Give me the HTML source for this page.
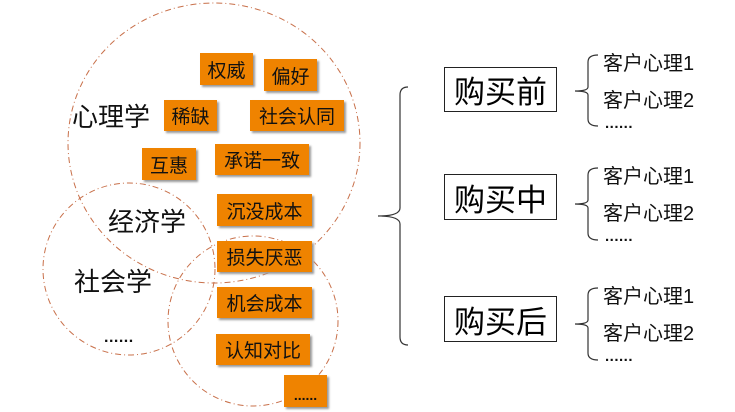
<!DOCTYPE html>
<html><head><meta charset="utf-8"><style>
body{margin:0;width:735px;height:412px;background:#fff;position:relative;overflow:hidden;font-family:"Liberation Sans","Noto Sans CJK SC",sans-serif;}
.b{position:absolute;background:#ef8300;box-shadow:2px 2px 2px #999;font-size:19px;color:#111;display:flex;align-items:center;justify-content:center;}
.t{position:absolute;color:#111;white-space:nowrap;line-height:1;}
.box{position:absolute;border:1.3px solid #222;font-size:31px;display:flex;align-items:center;justify-content:center;box-sizing:border-box;}
.s{position:absolute;font-size:20px;line-height:1;white-space:nowrap;color:#111}
.d{position:absolute;font-size:15px;font-weight:bold;line-height:1;letter-spacing:0.5px;color:#111}
</style></head><body>
<svg width="735" height="412" style="position:absolute;left:0;top:0">
<g fill="none" stroke="#c8704a" stroke-width="1" stroke-dasharray="6,3,1,3">
<ellipse cx="214" cy="143" rx="146" ry="140"/>
<circle cx="129" cy="269" r="86"/>
<circle cx="253" cy="321" r="85"/>
</g>
<g fill="none" stroke="#333" stroke-width="1.2">
<path d="M408 87 Q400 87 400 95 L400 208 Q400 216 378 216 Q400 216 400 224 L400 337 Q400 345 408 345"/>
<path d="M598 55 Q588 55 588 62 L588 87 Q588 91 575 91 Q588 91 588 95 L588 119 Q588 126 598 126"/>
<path d="M598 168 Q588 168 588 175 L588 200 Q588 204 575 204 Q588 204 588 208 L588 233 Q588 240 598 240"/>
<path d="M598 288 Q588 288 588 295 L588 320 Q588 324 575 324 Q588 324 588 328 L588 353 Q588 360 598 360"/>
</g>
</svg>
<div class="b" style="left:200px;top:53px;width:53px;height:32px">权威</div>
<div class="b" style="left:264px;top:59px;width:53px;height:32px">偏好</div>
<div class="b" style="left:164px;top:100px;width:53px;height:31px">稀缺</div>
<div class="b" style="left:250px;top:100px;width:94px;height:31px">社会认同</div>
<div class="b" style="left:142px;top:148px;width:54px;height:32px">互惠</div>
<div class="b" style="left:215px;top:144px;width:94px;height:31px">承诺一致</div>
<div class="b" style="left:217px;top:194px;width:95px;height:32px">沉没成本</div>
<div class="b" style="left:217px;top:241px;width:95px;height:31px">损失厌恶</div>
<div class="b" style="left:217px;top:287px;width:95px;height:31px">机会成本</div>
<div class="b" style="left:216px;top:334px;width:94px;height:31px">认知对比</div>
<div class="b" style="left:284px;top:375px;width:43px;height:32px;align-items:flex-end;font-size:14px;font-weight:bold;padding-bottom:4px;box-sizing:border-box">......</div>
<div class="t" style="left:72px;top:104px;font-size:26px">心理学</div>
<div class="t" style="left:108px;top:209px;font-size:26px">经济学</div>
<div class="t" style="left:74px;top:269px;font-size:26px">社会学</div>
<div class="d" style="left:104px;top:330px;font-size:16px">......</div>
<div class="box" style="left:444px;top:67px;width:113px;height:45px">购买前</div>
<div class="box" style="left:444px;top:174px;width:113px;height:46px">购买中</div>
<div class="box" style="left:444px;top:296px;width:113px;height:46px">购买后</div>
<div class="s" style="left:603px;top:54px">客户心理1</div>
<div class="s" style="left:603px;top:91px">客户心理2</div>
<div class="d" style="left:605px;top:116px">......</div>
<div class="s" style="left:603px;top:167px">客户心理1</div>
<div class="s" style="left:603px;top:204px">客户心理2</div>
<div class="d" style="left:605px;top:229px">......</div>
<div class="s" style="left:603px;top:287px">客户心理1</div>
<div class="s" style="left:603px;top:324px">客户心理2</div>
<div class="d" style="left:605px;top:349px">......</div>
</body></html>
